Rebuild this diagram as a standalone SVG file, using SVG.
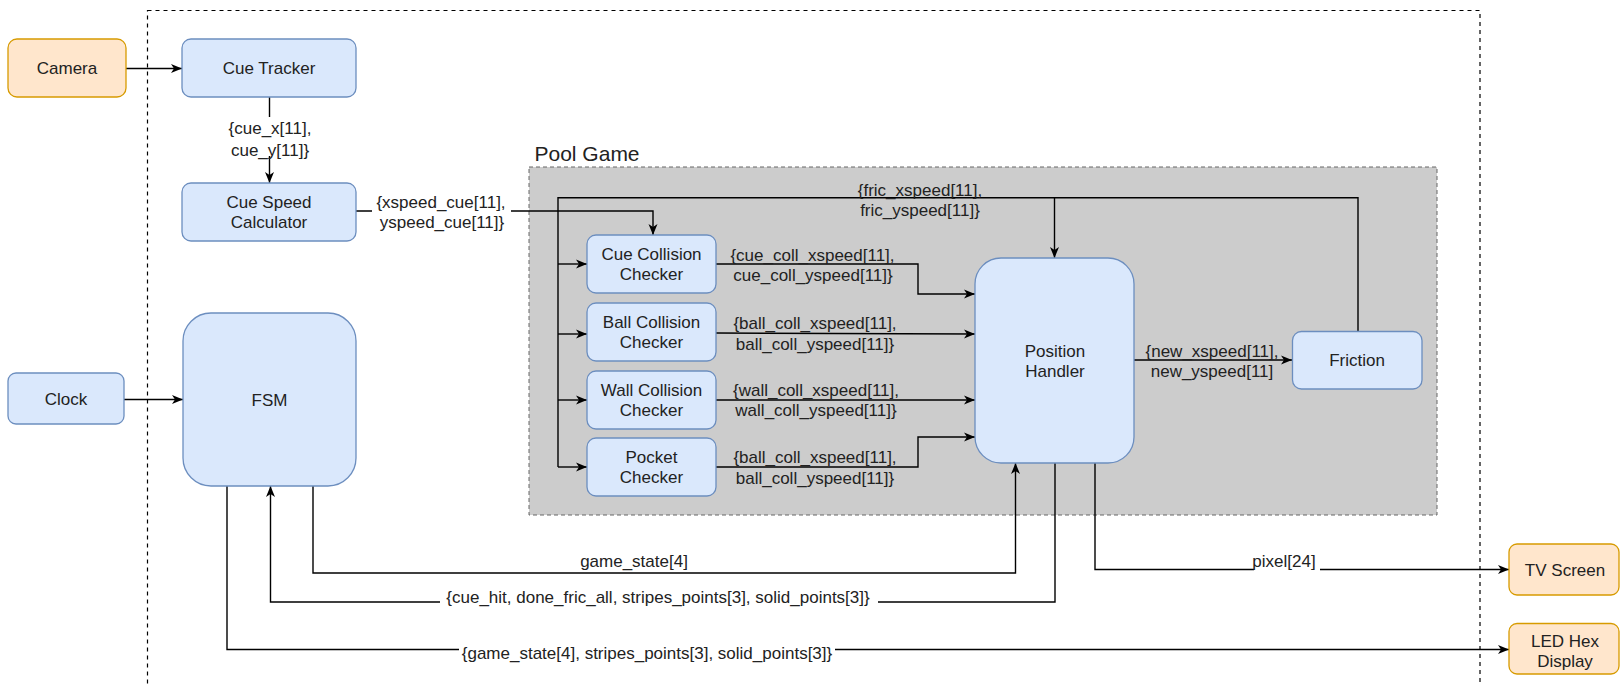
<svg xmlns="http://www.w3.org/2000/svg" width="1620" height="684" viewBox="0 0 1620 684">
<style>
.blue{fill:#dae8fc;stroke:#6c8ebf;stroke-width:1.3}
.orange{fill:#ffe6cc;stroke:#d79b00;stroke-width:1.3}
text{font-family:"Liberation Sans",Arial,sans-serif;font-size:17px;fill:#222;text-anchor:middle;dominant-baseline:central}
.edge{fill:none;stroke:#000;stroke-width:1.4}
.arr{marker-end:url(#ah)}
.bg{fill:#fff;stroke:none}
</style>
<defs>
<marker id="ah" markerUnits="userSpaceOnUse" markerWidth="12" markerHeight="10" refX="11" refY="5" orient="auto">
<path d="M0,0.5 L11,5 L0,9.5 L3,5 Z" fill="#000"/>
</marker>
</defs>
<rect x="147.5" y="10.5" width="1332.5" height="700" fill="none" stroke="#000" stroke-width="1.2" stroke-dasharray="4,4"/>
<g id="pool-game">
<rect x="529" y="167" width="908" height="348" fill="#cccccc" stroke="#666" stroke-width="1" stroke-dasharray="4,3"/>
<text x="534.5" y="153" style="font-size:21px;text-anchor:start">Pool Game</text>
</g>
<g id="connectors">
<path class="edge arr" d="M126,68.5 H182"/>
<path class="edge arr" d="M269.5,97 V183"/>
<path class="edge arr" d="M356,211 H653 V235"/>
<path class="edge arr" d="M124,399.5 H183"/>
<path class="edge" d="M1358,332 V197.7 H558 V467"/>
<path class="edge arr" d="M1054.5,197.7 V258"/>
<path class="edge arr" d="M558,264 H587"/>
<path class="edge arr" d="M558,334 H587"/>
<path class="edge arr" d="M558,400 H587"/>
<path class="edge arr" d="M558,467 H587"/>
<path class="edge arr" d="M716,264 H918 V294 H975"/>
<path class="edge arr" d="M716,333 L975,334"/>
<path class="edge arr" d="M716,400 H975"/>
<path class="edge arr" d="M716,467 H918 V437 H975"/>
<path class="edge arr" d="M1134,360 H1292"/>
<path class="edge arr" d="M313,486 V573 H1015.5 V463"/>
<path class="edge arr" d="M1055,463 V602 H270.5 V486"/>
<path class="edge arr" d="M1095,463 V569.5 H1509"/>
<path class="edge arr" d="M227,486 V649.5 H1509"/>
<rect class="bg" x="226" y="117" width="89" height="39"/>
<text x="270" y="128">{cue_x[11],</text>
<text x="270" y="150">cue_y[11]}</text>
<rect class="bg" x="372" y="191" width="139" height="42"/>
<text x="441" y="202">{xspeed_cue[11],</text>
<text x="442" y="222">yspeed_cue[11]}</text>
<text x="920" y="190">{fric_xspeed[11],</text>
<text x="920" y="210.5">fric_yspeed[11]}</text>
<text x="812.5" y="255">{cue_coll_xspeed[11],</text>
<text x="813" y="275">cue_coll_yspeed[11]}</text>
<text x="815" y="323">{ball_coll_xspeed[11],</text>
<text x="815" y="344">ball_coll_yspeed[11]}</text>
<text x="816" y="390">{wall_coll_xspeed[11],</text>
<text x="816" y="410">wall_coll_yspeed[11]}</text>
<text x="815" y="457">{ball_coll_xspeed[11],</text>
<text x="815" y="478">ball_coll_yspeed[11]}</text>
<text x="1212" y="351.5">{new_xspeed[11],</text>
<text x="1212" y="371.5">new_yspeed[11]</text>
<text x="634" y="561">game_state[4]</text>
<rect class="bg" x="440" y="588" width="438" height="20"/>
<text x="658" y="597">{cue_hit, done_fric_all, stripes_points[3], solid_points[3]}</text>
<rect class="bg" x="1254" y="551" width="66" height="22"/>
<text x="1284" y="561">pixel[24]</text>
<rect class="bg" x="459" y="643" width="376" height="20"/>
<text x="647" y="653">{game_state[4], stripes_points[3], solid_points[3]}</text>
</g>
<g id="camera"><rect class="orange" x="8" y="39" width="118" height="58" rx="9"/><text x="67" y="68">Camera</text></g>
<g id="cue-tracker"><rect class="blue" x="182" y="39" width="174" height="58" rx="9"/><text x="269" y="68">Cue Tracker</text></g>
<g id="cue-speed-calculator"><rect class="blue" x="182" y="183" width="174" height="58" rx="9"/><text x="269" y="202">Cue Speed</text><text x="269" y="222">Calculator</text></g>
<g id="clock"><rect class="blue" x="8" y="373" width="116" height="51" rx="8"/><text x="66" y="399.5">Clock</text></g>
<g id="fsm"><rect class="blue" x="183" y="313" width="173" height="173" rx="28"/><text x="269.5" y="400">FSM</text></g>
<g id="cue-collision-checker"><rect class="blue" x="587" y="235" width="129" height="58" rx="9"/><text x="651.5" y="254.5">Cue Collision</text><text x="651.5" y="274.5">Checker</text></g>
<g id="ball-collision-checker"><rect class="blue" x="587" y="303" width="129" height="58" rx="9"/><text x="651.5" y="322">Ball Collision</text><text x="651.5" y="342">Checker</text></g>
<g id="wall-collision-checker"><rect class="blue" x="587" y="371" width="129" height="58" rx="9"/><text x="651.5" y="390">Wall Collision</text><text x="651.5" y="410">Checker</text></g>
<g id="pocket-checker"><rect class="blue" x="587" y="438" width="129" height="58" rx="9"/><text x="651.5" y="457">Pocket</text><text x="651.5" y="477.5">Checker</text></g>
<g id="position-handler"><rect class="blue" x="975" y="258" width="159" height="205" rx="26"/><text x="1055" y="351.5">Position</text><text x="1055" y="371.5">Handler</text></g>
<g id="friction"><rect class="blue" x="1292.5" y="331.5" width="129.5" height="57.5" rx="9"/><text x="1357" y="360.5">Friction</text></g>
<g id="tv-screen"><rect class="orange" x="1509" y="544" width="110" height="51" rx="8"/><text x="1565" y="570.5">TV Screen</text></g>
<g id="led-hex-display"><rect class="orange" x="1509" y="623.5" width="110" height="50.5" rx="8"/><text x="1565" y="641.5">LED Hex</text><text x="1565" y="661.5">Display</text></g>
</svg>
